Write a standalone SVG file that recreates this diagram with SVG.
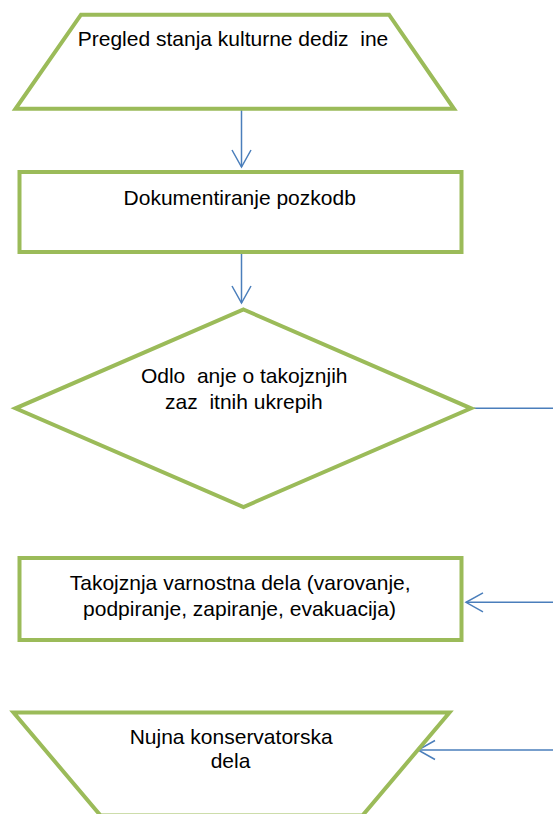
<svg xmlns="http://www.w3.org/2000/svg" width="553" height="814" viewBox="0 0 553 814">
<style>
.node{fill:#ffffff;stroke:#9BBB59;stroke-width:4;stroke-linejoin:miter;stroke-miterlimit:10}
.lbl{font-family:"Liberation Sans",Arial,sans-serif;font-size:21px;fill:#000000;text-anchor:middle;white-space:pre}
.conn{fill:none;stroke:#4A7EBB;stroke-width:1.5}
</style>
<defs>
<marker id="arr" markerUnits="userSpaceOnUse" markerWidth="24" markerHeight="24" viewBox="0 0 24 24" refX="20" refY="12" orient="auto">
<path d="M3,2.5 L20,12 L3,21.5" fill="none" stroke="#4A7EBB" stroke-width="1.5"/>
</marker>
</defs>
<rect width="553" height="814" fill="#ffffff"/>
<g id="connectors">
<line class="conn" x1="241.5" y1="110" x2="241.5" y2="167" marker-end="url(#arr)"/>
<line class="conn" x1="241.5" y1="254" x2="241.5" y2="303" marker-end="url(#arr)"/>
<line class="conn" x1="474" y1="408.3" x2="553" y2="408.3"/>
<line class="conn" x1="553" y1="602.3" x2="466" y2="602.3" marker-end="url(#arr)"/>
<line class="conn" x1="553" y1="750" x2="418" y2="750" marker-end="url(#arr)"/>
</g>
<g id="n1">
<path class="node" d="M81,14.7 L389,14.7 L454,108.8 L15.5,108.8 Z"/>
<text class="lbl" x="233" y="45.7" xml:space="preserve">Pregled stanja kulturne dediz  ine</text>
</g>
<g id="n2">
<rect class="node" x="19.5" y="172" width="442" height="80"/>
<text class="lbl" x="239.7" y="205">Dokumentiranje pozkodb</text>
</g>
<g id="n3">
<path class="node" d="M243.5,309.5 L471,408.3 L243.5,507 L15.5,408.3 Z"/>
<text class="lbl" x="244.2" y="383.3" xml:space="preserve">Odlo  anje o takojznjih</text>
<text class="lbl" x="243.9" y="409.3" xml:space="preserve">zaz  itnih ukrepih</text>
</g>
<g id="n4">
<rect class="node" x="19.5" y="558" width="442" height="82"/>
<text class="lbl" x="240.2" y="590">Takojznja varnostna dela (varovanje,</text>
<text class="lbl" x="239.5" y="616.3">podpiranje, zapiranje, evakuacija)</text>
</g>
<g id="n5">
<path class="node" d="M13.5,712.5 L449.5,712.5 L362.5,815.5 L100.5,815.5 Z"/>
<text class="lbl" x="231.2" y="744">Nujna konservatorska</text>
<text class="lbl" x="230.5" y="768.3">dela</text>
</g>
</svg>
